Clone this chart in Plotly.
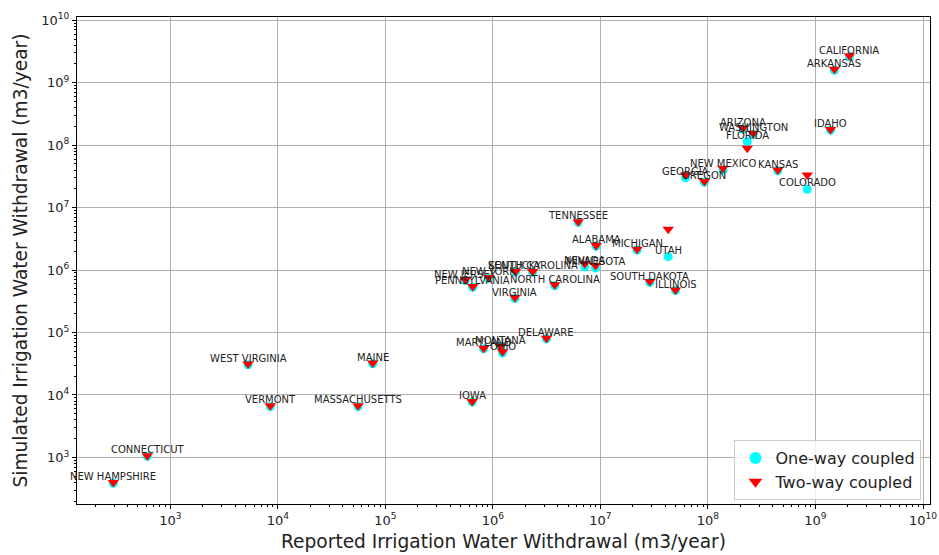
import numpy as np
import plotly.graph_objects as go

states = ["CALIFORNIA", "ARKANSAS", "IDAHO", "ARIZONA", "WASHINGTON", "FLORIDA",
          "NEW MEXICO", "KANSAS", "GEORGIA", "OREGON", "COLORADO", "TENNESSEE",
          "ALABAMA", "MICHIGAN", "UTAH", "NEVADA", "MINNESOTA", "SOUTH DAKOTA",
          "ILLINOIS", "NORTH CAROLINA", "SOUTH CAROLINA", "KENTUCKY", "NEW YORK",
          "NEW JERSEY", "PENNSYLVANIA", "VIRGINIA", "DELAWARE", "MARYLAND",
          "MONTANA", "OHIO", "IOWA", "WEST VIRGINIA", "MAINE", "VERMONT",
          "MASSACHUSETTS", "CONNECTICUT", "NEW HAMPSHIRE"]

reported = [2.07e9, 1.50e9, 1.38e9, 2.12e8, 2.63e8, 2.32e8,
            1.38e8, 4.46e8, 6.18e7, 9.27e7, 8.38e8, 6.21e6,
            9.12e6, 2.19e7, 4.27e7, 7.15e6, 9.0e6, 2.88e7,
            4.99e7, 3.76e6, 2.34e6, 1.62e6, 9.14e5,
            5.55e5, 6.49e5, 1.60e6, 3.15e6, 8.2e5,
            1.18e6, 1.23e6, 6.41e5, 5.28e3, 7.62e4, 8.51e3,
            5.57e4, 6.11e2, 2.95e2]

one_way = [2.6e9, 1.58e9, 1.74e8, 1.8e8, 1.5e8, 1.14e8,
           4.0e7, 3.9e7, 3.0e7, 2.55e7, 1.97e7, 5.8e6,
           2.4e6, 2.1e6, 1.64e6, 1.12e6, 1.08e6, 6.3e5,
           4.7e5, 5.6e5, 9.2e5, 9.2e5, 7.4e5,
           6.8e5, 5.3e5, 3.5e5, 7.9e4, 5.5e4,
           5.9e4, 4.7e4, 7.7e3, 3.05e4, 3.15e4, 6.55e3,
           6.55e3, 1.04e3, 3.85e2]

two_way = [2.7e9, 1.64e9, 1.79e8, 1.86e8, 1.55e8, 8.9e7,
           4.27e7, 4.0e7, 3.34e7, 2.61e7, 3.34e7, 5.97e6,
           2.47e6, 2.16e6, 4.51e6, 1.26e6, 1.18e6, 6.55e5,
           4.82e5, 5.8e5, 9.46e5, 9.46e5, 7.59e5,
           6.97e5, 5.45e5, 3.63e5, 8.13e4, 5.62e4,
           6.0e4, 4.9e4, 7.87e3, 3.12e4, 3.24e4, 6.71e3,
           6.71e3, 1.065e3, 3.98e2]

tick_exps = [3, 4, 5, 6, 7, 8, 9, 10]
tick_vals = [10.0 ** e for e in tick_exps]
tick_text = ["10<sup>%d</sup>" % e for e in tick_exps]
minor_vals = [k * 10.0 ** e for e in range(2, 11) for k in range(2, 10)]

font = "DejaVu Sans, sans-serif"

fig = go.Figure()
fig.add_trace(go.Scatter(
    x=reported, y=one_way, mode="markers", name="One-way coupled",
    marker=dict(symbol="circle", size=9, color="#00ffff", line=dict(width=0)),
))
fig.add_trace(go.Scatter(
    x=reported, y=two_way, mode="markers", name="Two-way coupled",
    marker=dict(symbol="triangle-down", size=10, color="#ff0000", line=dict(width=0)),
))

for name, xv, yv in zip(states, reported, one_way):
    fig.add_annotation(
        x=np.log10(xv), y=np.log10(yv), text=name, showarrow=False,
        xanchor="center", yanchor="bottom", yshift=-1,
        font=dict(family=font, size=10, color="#222222"),
    )

axis_common = dict(
    type="log", showline=True, linecolor="black", linewidth=1, mirror=True,
    ticks="outside", ticklen=4, tickwidth=1, tickcolor="black",
    showgrid=True, gridcolor="#b0b0b0", gridwidth=1,
    tickvals=tick_vals, ticktext=tick_text,
    tickfont=dict(family=font, size=13, color="#222222"),
    minor=dict(tickvals=minor_vals, ticks="outside", ticklen=2, tickcolor="black",
               showgrid=False),
    zeroline=False, automargin=False,
)

fig.update_xaxes(
    range=[2.132, 10.065],
    title=dict(text="Reported Irrigation Water Withdrawal (m3/year)",
               font=dict(family=font, size=18.6, color="#222222"), standoff=8),
    **axis_common,
)
fig.update_yaxes(
    range=[2.254, 10.053],
    title=dict(text="Simulated Irrigation Water Withdrawal (m3/year)",
               font=dict(family=font, size=18.6, color="#222222"), standoff=8),
    **axis_common,
)

fig.update_layout(
    width=939, height=555,
    margin=dict(l=77, r=9, t=17, b=51, autoexpand=False),
    plot_bgcolor="white", paper_bgcolor="white",
    font=dict(family=font),
    showlegend=True,
    legend=dict(
        x=0.99, y=0.008, xanchor="right", yanchor="bottom",
        bgcolor="rgba(255,255,255,0.8)", bordercolor="#cccccc", borderwidth=1,
        font=dict(family=font, size=16, color="#222222"),
        itemsizing="constant",
    ),
)

fig.write_html(
    "out.html",
    config={"displayModeBar": False},
    post_script="document.body.style.margin='0';document.body.style.overflow='hidden';",
)
